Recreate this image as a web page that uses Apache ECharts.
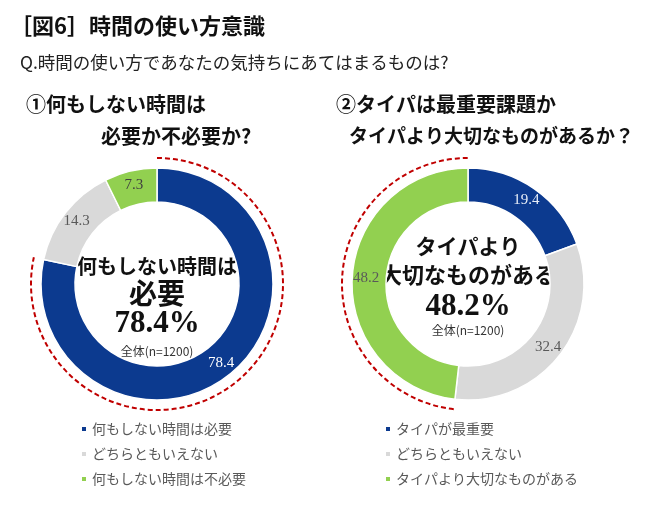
<!DOCTYPE html>
<html><head><meta charset="utf-8">
<script src="https://cdn.jsdelivr.net/npm/echarts@6/dist/echarts.min.js"></script>
<style>html,body{margin:0;padding:0;background:#fff}#c{width:670px;height:514px}</style>
</head><body><div id="c"></div>
<script>
const leftCategories = ['何もしない時間は必要', 'どちらともいえない', '何もしない時間は不必要'];
const leftValues = [78.4, 14.3, 7.3];
const rightCategories = ['タイパが最重要', 'どちらともいえない', 'タイパより大切なものがある'];
const rightValues = [19.4, 32.4, 48.2];
const colors = ['#0c3a8f', '#d9d9d9', '#92d050'];
const labelColorsLeft = ['#ffffff', '#595959', '#404040'];
const labelColorsRight = ['#e8eef8', '#595959', '#595959'];

const JP = '"Noto Sans CJK JP", "Noto Sans", sans-serif';
const SERIF = '"Liberation Serif", "DejaVu Serif", "Noto Sans CJK JP", serif';

const L = {cx: 157, cy: 284}, R = {cx: 468, cy: 284};
const rIn = 82, rOut = 116, rDash = 126;

function mk(vals, names, lc) {
  return vals.map((v, i) => ({value: v, name: names[i], itemStyle: {color: colors[i]},
    label: {color: lc[i]}}));
}
function pie(center, vals, names, lc) {
  return {type: 'pie', center: [center.cx, center.cy], radius: [rIn, rOut], startAngle: 90,
    clockwise: true, silent: true, animation: false,
    itemStyle: {borderColor: '#fff', borderWidth: 1.5},
    label: {show: true, position: 'inside', fontFamily: SERIF, fontSize: 15,
      formatter: p => p.value.toFixed(1)},
    labelLine: {show: false},
    data: mk(vals, names, lc)};
}
function txt(x, y, s, size, opt) {
  opt = opt || {};
  return {type: 'text', x: x, y: y, style: {text: s, font: (opt.weight || 'normal') + ' ' + size + 'px ' + (opt.family || JP),
    fill: opt.fill || '#111', textAlign: opt.align || 'left', textVerticalAlign: 'middle'}};
}
const share = leftValues[0] / 100, shareR = rightValues[2] / 100;
const dash = {stroke: '#c00000', lineWidth: 2, lineDash: [5, 3], fill: null};

const option = {
  animation: false,
  legend: [
    {data: leftCategories, left: 75, top: 417, orient: 'vertical', icon: 'rect', itemWidth: 6, itemHeight: 6,
      itemGap: 11, selectedMode: false, textStyle: {fontFamily: JP, fontSize: 14, color: '#595959'}},
    {data: rightCategories, left: 379, top: 417, orient: 'vertical', icon: 'rect', itemWidth: 6, itemHeight: 6,
      itemGap: 11, selectedMode: false, textStyle: {fontFamily: JP, fontSize: 14, color: '#595959'}}
  ],
  series: [pie(L, leftValues, leftCategories, labelColorsLeft), pie(R, rightValues, rightCategories, labelColorsRight)],
  graphic: [
    txt(10, 26, '［図6］時間の使い方意識', 22, {weight: 'bold'}),
    txt(20, 62, 'Q.時間の使い方であなたの気持ちにあてはまるものは?', 17.5, {fill: '#222'}),
    txt(26, 104, '①何もしない時間は', 20, {weight: 'bold'}),
    txt(101, 136, '必要か不必要か?', 20, {weight: 'bold'}),
    txt(336, 104, '②タイパは最重要課題か', 20, {weight: 'bold'}),
    txt(349, 136, 'タイパより大切なものがあるか？', 19, {weight: 'bold'}),
    {type: 'arc', shape: {cx: L.cx, cy: L.cy, r: rDash, startAngle: -Math.PI / 2, endAngle: -Math.PI / 2 + 2 * Math.PI * share, clockwise: true}, style: dash, z: 10},
    {type: 'arc', shape: {cx: R.cx, cy: R.cy, r: rDash, startAngle: -Math.PI / 2 + 2 * Math.PI * (1 - shareR), endAngle: 1.5 * Math.PI, clockwise: true}, style: dash, z: 10},
    txt(L.cx, 266, '何もしない時間は', 20, {weight: 'bold', align: 'center'}),
    txt(L.cx, 293, '必要', 28, {weight: 'bold', align: 'center'}),
    txt(L.cx, 324, leftValues[0].toFixed(1) + '%', 31, {weight: 'bold', align: 'center', family: SERIF}),
    txt(L.cx, 351, '全体(n=1200)', 12, {align: 'center', fill: '#333'}),
    txt(R.cx, 246, 'タイパより', 21, {weight: 'bold', align: 'center'}),
    txt(R.cx, 275, '大切なものがある', 22, {weight: 'bold', align: 'center'}),
    txt(R.cx, 307, rightValues[2].toFixed(1) + '%', 31, {weight: 'bold', align: 'center', family: SERIF}),
    txt(R.cx, 330, '全体(n=1200)', 12, {align: 'center', fill: '#333'})
  ]
};
const chart = echarts.init(document.getElementById('c'), null, {renderer: 'canvas'});
chart.setOption(option);
</script></body></html>
